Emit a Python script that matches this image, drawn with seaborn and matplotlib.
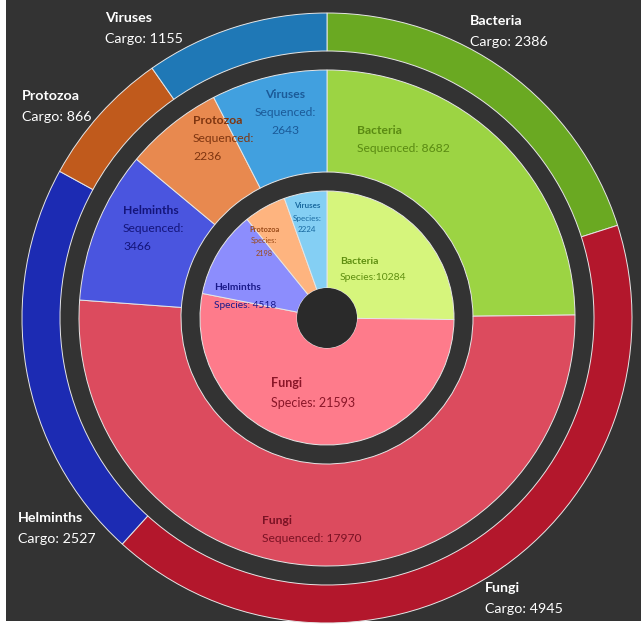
import matplotlib
matplotlib.use("Agg")
import matplotlib.pyplot as plt
import seaborn as sns
from matplotlib.patches import Rectangle, Circle

# ---------------- data ----------------
categories = ["Bacteria", "Fungi", "Helminths", "Protozoa", "Viruses"]
cargo = [2386, 4945, 2527, 866, 1155]
sequenced = [8682, 17970, 3466, 2236, 2643]
species = [10284, 21593, 4518, 2198, 2224]

# ---------------- styles ----------------
outer_colors = ["#6aa922", "#b3172c", "#1c2bb3", "#c05a1c", "#1f78b6"]
middle_colors = ["#9cd443", "#dc4b5e", "#4a55df", "#e8894f", "#41a0df"]
inner_colors = ["#d6f57c", "#fe7b8b", "#8c8dfd", "#feb47f", "#84cff4"]
middle_text = ["#5a8a12", "#7a1224", "#14157a", "#7e3510", "#1b5a98"]
inner_text = ["#5f8f10", "#8a1628", "#1a1a8a", "#9a4a18", "#1a6aa0"]
BG = "#333333"

sns.set_style("white")
plt.rcParams["font.family"] = ["Lato", "DejaVu Sans"]

W, H = 641, 628
CX, CY = 327, 318
fig = plt.figure(figsize=(W / 100, H / 100), dpi=100)
fig.patch.set_facecolor("white")
ax = fig.add_axes([0, 0, 1, 1])
ax.set_facecolor("white")

def P(px, py):
    return px - CX, CY - py

# dark background panel (white strip at left and bottom)
ax.add_patch(Rectangle(P(6, 621), W, 621, facecolor=BG, edgecolor="none", zorder=0))

edge = dict(edgecolor="#e6e6e6", linewidth=0.7)
ax.pie(cargo, radius=305, colors=outer_colors, startangle=90, counterclock=False,
       wedgeprops=dict(width=38, **edge))
ax.pie(sequenced, radius=248, colors=middle_colors, startangle=90, counterclock=False,
       wedgeprops=dict(width=248 - 146, **edge))
ax.pie(species, radius=127, colors=inner_colors, startangle=90, counterclock=False,
       wedgeprops=dict(width=127 - 30, **edge))
ax.add_patch(Circle((0, 0), 30, facecolor="#2a2a2a", edgecolor="none", zorder=5))

ax.set_xlim(-CX, W - CX)
ax.set_ylim(CY - H, CY)
ax.set_aspect("equal")
ax.axis("off")

def label(px, py, lines, color, size, ha="left", gap=19, bold_first=True):
    for i, t in enumerate(lines):
        x, y = P(px, py + i * gap)
        ax.text(x, y, t, color=color, fontsize=size, ha=ha, va="center",
                fontweight="bold" if (i == 0 and bold_first) else "normal", zorder=10)

# outer labels
outer_pos = [(470, 21), (485, 588), (18, 518), (22, 96), (105, 18)]
for (px, py), c, v in zip(outer_pos, categories, cargo):
    label(px, py, [c, f"Cargo: {v}"], "white", 10.3, gap=21)

# middle labels
mid_layout = {
    "Bacteria": ((357, 131), ["Bacteria", "Sequenced: {v}"], "left"),
    "Fungi": ((262, 521), ["Fungi", "Sequenced: {v}"], "left"),
    "Helminths": ((123, 211), ["Helminths", "Sequenced:", "{v}"], "left"),
    "Protozoa": ((193, 121), ["Protozoa", "Sequenced:", "{v}"], "left"),
    "Viruses": ((285, 95), ["Viruses", "Sequenced:", "{v}"], "center"),
}
for i, c in enumerate(categories):
    (px, py), lines, ha = mid_layout[c]
    label(px, py, [s.format(v=sequenced[i]) for s in lines], middle_text[i], 8.7,
          ha=ha, gap=18)

# inner labels
inner_layout = {
    "Bacteria": ((340, 261), ["Bacteria", "Species:{v}"], "left", 7.5, 17),
    "Fungi": ((271, 383), ["Fungi", "Species: {v}"], "left", 9, 20),
    "Helminths": ((214, 288), ["Helminths", "Species: {v}"], "left", 7.3, 17),
    "Protozoa": ((264, 229), ["Protozoa", "Species:", "{v}"], "center", 5.3, 12),
    "Viruses": ((307, 206), ["Viruses", "Species:", "{v}"], "center", 5.8, 12),
}
for i, c in enumerate(categories):
    (px, py), lines, ha, fs, gap = inner_layout[c]
    label(px, py, [s.format(v=species[i]) for s in lines], inner_text[i], fs,
          ha=ha, gap=gap)

fig.savefig("out.png", dpi=100, facecolor=fig.get_facecolor())
